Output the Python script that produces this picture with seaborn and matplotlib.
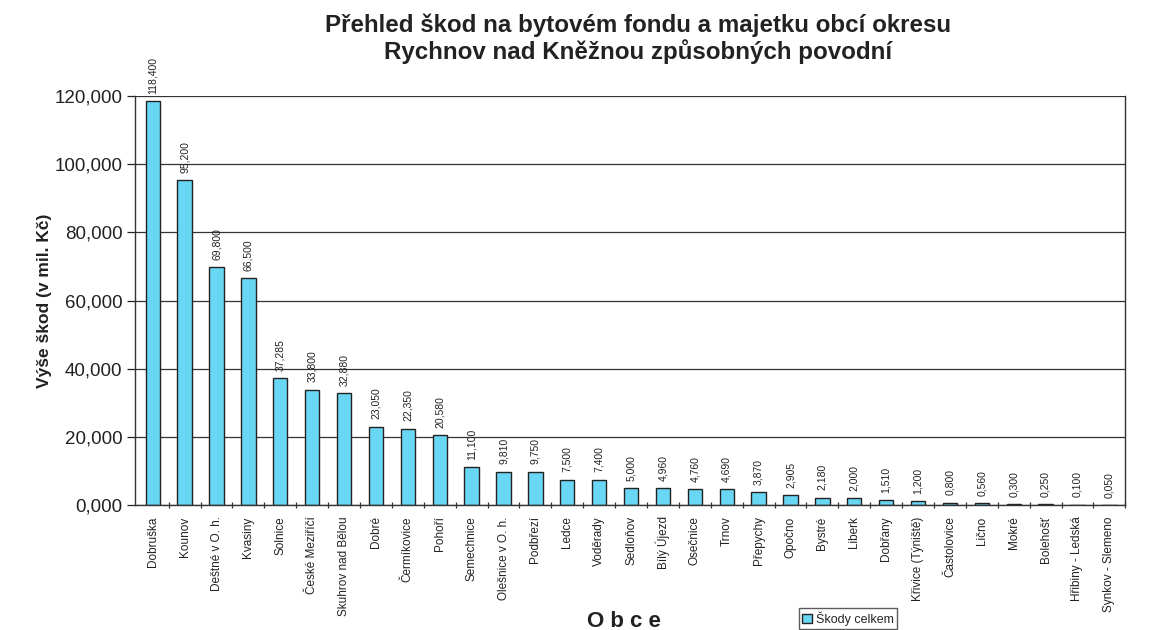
import numpy as np
import pandas as pd
import seaborn as sns
import matplotlib.pyplot as plt
from matplotlib.ticker import FuncFormatter, MultipleLocator
from matplotlib.patches import Patch

# data (mil. Kč)
obce = [
    'Dobruška', 'Kounov', 'Deštné v O. h.', 'Kvasiny', 'Solnice',
    'České Meziříčí', 'Skuhrov nad Bělou', 'Dobré', 'Čermíkovice', 'Pohoří',
    'Semechnice', 'Olešnice v O. h.', 'Podbřezí', 'Ledce', 'Voděrady',
    'Sedloňov', 'Bílý Újezd', 'Osečnice', 'Trnov', 'Přepychy',
    'Opočno', 'Bystré', 'Liberk', 'Dobřany', 'Křivice (Týniště)',
    'Častolovice', 'Lično', 'Mokré', 'Bolehošť', 'Hřibiny - Ledská',
    'Synkov - Slemeno',
]
skody = [
    118.4, 95.2, 69.8, 66.5, 37.285,
    33.8, 32.88, 23.05, 22.35, 20.58,
    11.1, 9.81, 9.75, 7.5, 7.4,
    5.0, 4.96, 4.76, 4.69, 3.87,
    2.905, 2.18, 2.0, 1.51, 1.2,
    0.8, 0.56, 0.3, 0.25, 0.1,
    0.05,
]

df = pd.DataFrame({'obec': obce, 'skoda': skody})

sns.set_theme(style='white')
plt.rcParams['font.family'] = ['Liberation Sans', 'DejaVu Sans']

bar_color = '#68d7f4'

fig = plt.figure(figsize=(11.53, 6.3), dpi=100)
ax = fig.add_axes([0.117, 0.198, 0.859, 0.650])

sns.barplot(data=df, x='obec', y='skoda', color=bar_color,
            edgecolor='#222222', linewidth=1.0, width=0.45,
            saturation=1, ax=ax)


def cz(v, pos=None):
    return f'{v:,.3f}'.replace(',', ' ').replace('.', ',').replace(' ', '.')


for i, v in enumerate(skody):
    ax.text(i, v + 2.2, cz(v), rotation=90, ha='center', va='bottom',
            fontsize=7.5, color='#222222')

ax.set_ylim(0, 120)
ax.set_xlim(-0.56, 30.47)
ax.yaxis.set_major_locator(MultipleLocator(20))
ax.yaxis.set_major_formatter(FuncFormatter(lambda v, p: '0,000' if v < 1 else f'{int(v)},000'))
ax.yaxis.grid(True, color='#333333', linewidth=0.9)
ax.set_axisbelow(True)

for s in ['left', 'bottom', 'right']:
    ax.spines[s].set_visible(True)
    ax.spines[s].set_color('#333333')
    ax.spines[s].set_linewidth(1.0)
ax.spines['top'].set_visible(False)

ax.tick_params(axis='y', which='major', left=True, length=6, width=0.9,
               labelsize=13.5, colors='#222222', direction='out', pad=3)
ax.set_xticks(np.arange(len(obce)))
ax.set_xticklabels(obce, rotation=90, fontsize=8.5, color='#222222')
ax.set_xticks(np.arange(len(obce)) + 0.5, minor=True)
ax.tick_params(axis='x', which='major', bottom=False, pad=2)
ax.tick_params(axis='x', which='minor', bottom=True, length=5, width=0.9,
               direction='inout', color='#333333')

ax.set_xlabel('')
ax.set_ylabel('Výše škod (v mil. Kč)', fontsize=12.5, fontweight='bold',
              color='#222222', labelpad=2)

fig.text(0.553, 0.978, 'Přehled škod na bytovém fondu a majetku obcí okresu\nRychnov nad Kněžnou způsobných povodní',
         ha='center', va='top', fontsize=17.4, fontweight='bold',
         color='#222222', linespacing=1.1)
fig.text(0.541, 0.013, 'O b c e', ha='center', va='center', fontsize=16,
         fontweight='bold', color='#222222')

handle = Patch(facecolor=bar_color, edgecolor='#222222', label='Škody celkem')
fig.legend(handles=[handle], loc='lower left', bbox_to_anchor=(0.692, 0.0),
           fontsize=9, frameon=True, fancybox=False, edgecolor='#333333',
           handlelength=0.8, handleheight=0.8, handletextpad=0.3,
           borderpad=0.25, borderaxespad=0.1)

fig.savefig('out.png', dpi=100)
